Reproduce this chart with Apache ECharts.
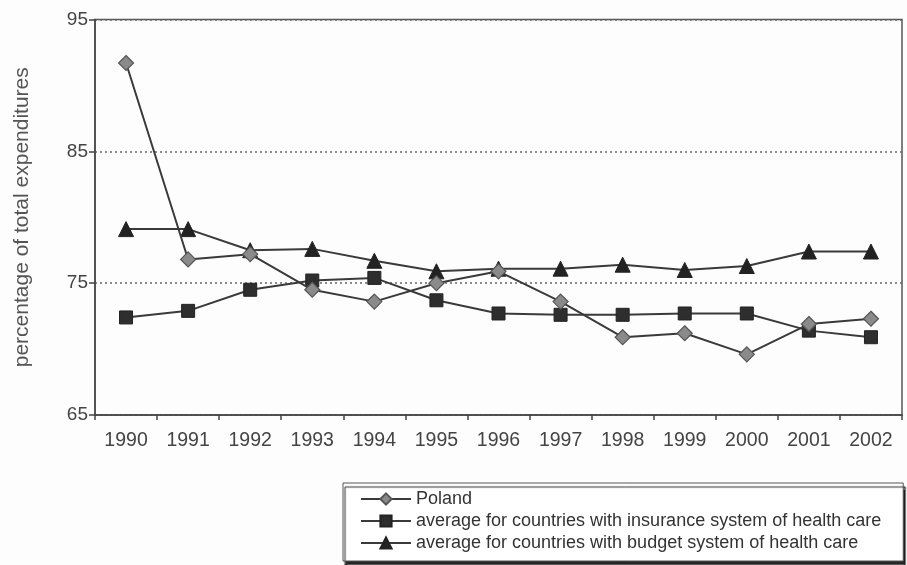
<!DOCTYPE html>
<html>
<head>
<meta charset="utf-8">
<script src="https://cdn.jsdelivr.net/npm/echarts@6/dist/echarts.min.js"></script>
<style>html,body{margin:0;padding:0;background:#fdfdfd;}#c{width:907px;height:565px;}</style>
</head>
<body>
<div id="c"></div>
<script>
const years = ['1990','1991','1992','1993','1994','1995','1996','1997','1998','1999','2000','2001','2002'];
const poland = [91.7, 76.8, 77.2, 74.5, 73.6, 75.0, 75.9, 73.6, 70.9, 71.2, 69.6, 71.9, 72.3];
const insurance = [72.4, 72.9, 74.5, 75.2, 75.4, 73.7, 72.7, 72.6, 72.6, 72.7, 72.7, 71.4, 70.9];
const budget = [79.1, 79.1, 77.5, 77.6, 76.7, 75.9, 76.1, 76.1, 76.4, 76.0, 76.3, 77.4, 77.4];
const seriesNames = ['Poland', 'average for countries with insurance system of health care', 'average for countries with budget system of health care'];
const yTicks = {min: 65, max: 95, interval: 10};
const yTitle = 'percentage of total expenditures';

const font = 'Liberation Sans, Arial, sans-serif';
const chart = echarts.init(document.getElementById('c'), null, {renderer: 'canvas'});
chart.setOption({
  backgroundColor: '#fdfdfd',
  animation: false,
  grid: {left: 95, right: 5, top: 19.5, bottom: 150, show: true, borderColor: '#555', borderWidth: 1.5, backgroundColor: 'transparent'},
  xAxis: {
    type: 'category', data: years, boundaryGap: true,
    axisLine: {lineStyle: {color: '#444', width: 1.5}},
    axisTick: {show: true, interval: 0, length: 5, lineStyle: {color: '#444', width: 1.5}},
    axisLabel: {interval: 0, color: '#444', fontSize: 19.5, fontFamily: font, margin: 16}
  },
  yAxis: {
    type: 'value', min: yTicks.min, max: yTicks.max, interval: yTicks.interval,
    name: yTitle, nameLocation: 'middle', nameRotate: 90, nameGap: 62,
    nameTextStyle: {color: '#555', fontSize: 21, fontFamily: font},
    axisLine: {show: true, lineStyle: {color: '#444', width: 1.5}},
    axisTick: {show: true, length: 6, lineStyle: {color: '#444', width: 1.5}},
    axisLabel: {color: '#444', fontSize: 19, fontFamily: font, margin: 7},
    splitLine: {show: true, lineStyle: {color: '#666', type: [2, 3], width: 1.5}}
  },
  legend: {
    orient: 'vertical', left: 343, top: 483,
    padding: [7, 22, 9, 17], itemGap: 4, itemWidth: 50, itemHeight: 14,
    backgroundColor: '#fff', borderColor: '#555', borderWidth: 1,
    shadowColor: 'rgba(0,0,0,0.85)', shadowOffsetX: 2, shadowOffsetY: 4, shadowBlur: 1,
    textStyle: {color: '#333', fontSize: 18, lineHeight: 18, fontFamily: font},
    data: seriesNames
  },
  series: [
    {name: seriesNames[0], type: 'line', data: poland, symbol: 'diamond', symbolSize: 15,
      lineStyle: {color: '#3a3a3a', width: 2}, itemStyle: {color: '#8a8a8a', borderColor: '#555', borderWidth: 1.2}, z: 3},
    {name: seriesNames[1], type: 'line', data: insurance, symbol: 'rect', symbolSize: 13,
      lineStyle: {color: '#3a3a3a', width: 2}, itemStyle: {color: '#2e2e2e', borderColor: '#222', borderWidth: 1}, z: 2},
    {name: seriesNames[2], type: 'line', data: budget, symbol: 'triangle', symbolSize: 15,
      lineStyle: {color: '#3a3a3a', width: 2}, itemStyle: {color: '#222', borderColor: '#222', borderWidth: 1}, z: 2}
  ]
});
</script>
</body>
</html>
